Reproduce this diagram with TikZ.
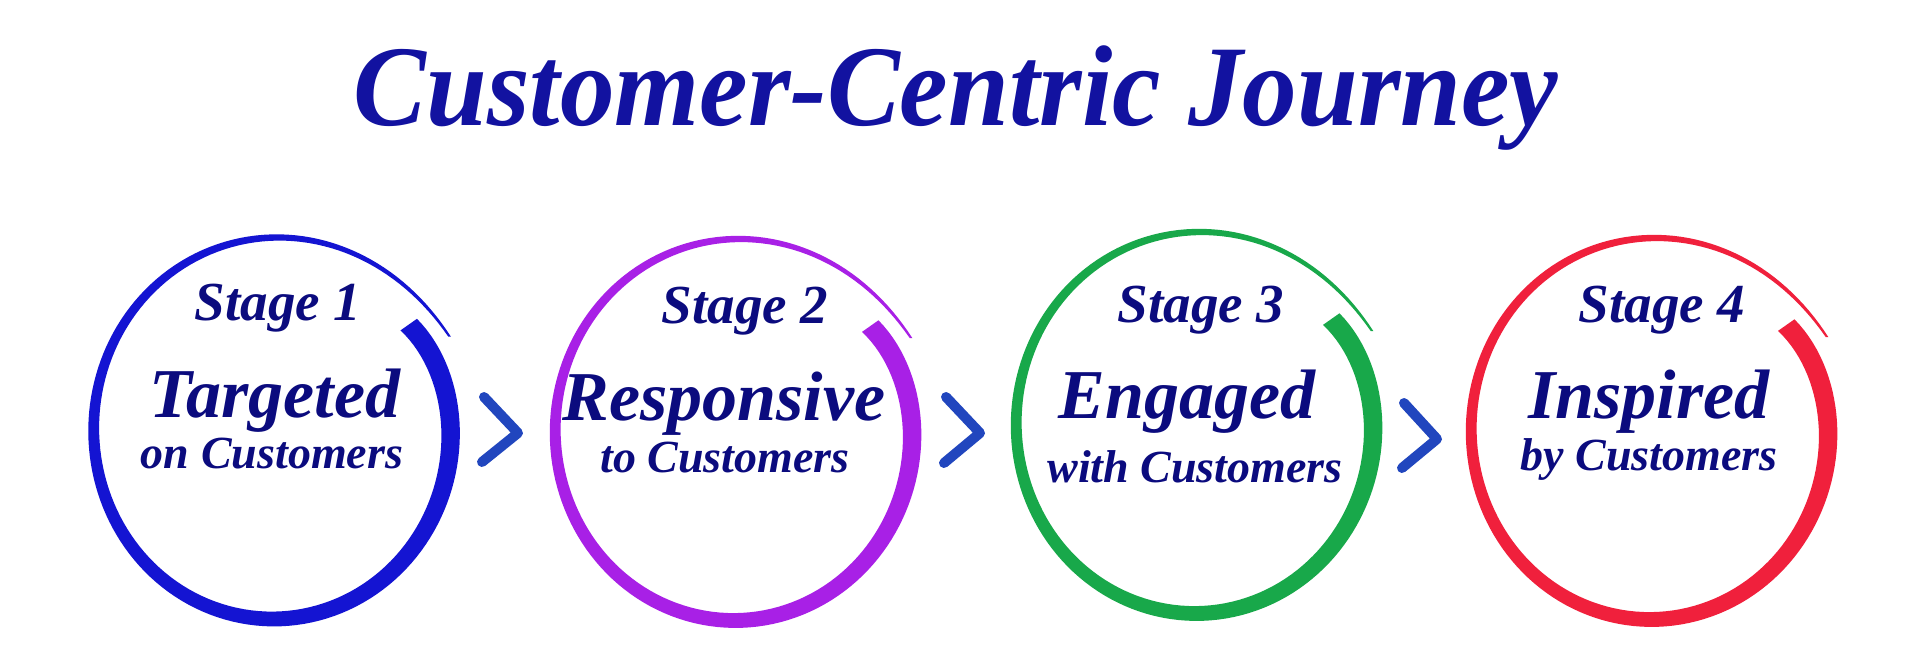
\documentclass[tikz,border=0pt]{standalone}
\usepackage{fontspec}
\setmainfont{Liberation Serif}
\definecolor{cblue}{RGB}{20,20,210}
\definecolor{cpurple}{RGB}{168,32,230}
\definecolor{cgreen}{RGB}{24,168,74}
\definecolor{cred}{RGB}{240,32,60}
\definecolor{chevcol}{RGB}{33,70,190}
\definecolor{navy}{RGB}{11,11,126}
\definecolor{titlecol}{RGB}{18,18,160}
\tikzset{
  declare function={
    ang(\t)=27+371*\t;
    rr(\t)=184-5*cos(2*ang(\t))+19*exp(-\t/0.1)-11*exp(-(1-\t)/0.05);
    ww(\t)=2+18*(\t)^0.8;
  },
  stagetxt/.style={anchor=base,inner sep=0,text=navy,font=\fontsize{55}{60}\selectfont\bfseries\itshape},
  maintxt/.style={anchor=base,inner sep=0,text=navy,font=\fontsize{70}{76}\selectfont\bfseries\itshape},
  subtxt/.style={anchor=base,inner sep=0,text=navy,font=\fontsize{46}{50}\selectfont\bfseries\itshape},
  titletxt/.style={anchor=base,inner sep=0,text=titlecol,font=\fontsize{115}{120}\selectfont\bfseries\itshape},
  chev/.style={draw=chevcol,line width=10pt,line cap=round,line join=round},
}
\newcommand\brushring[3]{%
  \fill[#3] plot[domain=0.002:1,samples=160,variable=\t]
    ({#1+(rr(\t)+ww(\t)/2)*cos(ang(\t))},{#2-(rr(\t)+ww(\t)/2)*sin(ang(\t))})
    -- plot[domain=1:0.002,samples=160,variable=\t]
    ({#1+(rr(\t)-ww(\t)/2)*cos(ang(\t))},{#2-(rr(\t)-ww(\t)/2)*sin(ang(\t))})
    -- cycle;}
\begin{document}
\begin{tikzpicture}[x=1pt,y=-1pt]
\useasboundingbox (0,0) rectangle (1920,667);
\fill[white] (0,0) rectangle (1920,667);
\node[titletxt] (title) at (956,125) {\scalebox{0.95}[1]{Customer-Centric Journey}};

\brushring{273}{430}{cblue}
\brushring{734.5}{431.5}{cpurple}
\brushring{1195.5}{424.5}{cgreen}
\brushring{1650.5}{430.5}{cred}

\node[stagetxt] (s1) at (278,320) {Stage 1};
\node[maintxt] (m1) at (275,417) {Targeted};
\node[subtxt] (b1) at (272,468) {on Customers};

\node[stagetxt] (s2) at (745,323) {Stage 2};
\node[maintxt] (m2) at (724,420) {Responsive};
\node[subtxt] (b2) at (725,472) {to Customers};

\node[stagetxt] (s3) at (1201,322) {Stage 3};
\node[maintxt] (m3) at (1187,418) {Engaged};
\node[subtxt] (b3) at (1195,482) {with Customers};

\node[stagetxt] (s4) at (1662,322) {Stage 4};
\node[maintxt] (m4) at (1649,418) {Inspired};
\node[subtxt] (b4) at (1649,470) {by Customers};

\coordinate (c1a) at (484,397); \coordinate (c1t) at (518,433); \coordinate (c1b) at (482,462);
\coordinate (c2a) at (946,397); \coordinate (c2t) at (980,433); \coordinate (c2b) at (944,463);
\coordinate (c3a) at (1404,403); \coordinate (c3t) at (1437,439); \coordinate (c3b) at (1402,468);
\draw[chev] (c1a) -- (c1t) -- (c1b);
\draw[chev] (c2a) -- (c2t) -- (c2b);
\draw[chev] (c3a) -- (c3t) -- (c3b);
\end{tikzpicture}
\end{document}
